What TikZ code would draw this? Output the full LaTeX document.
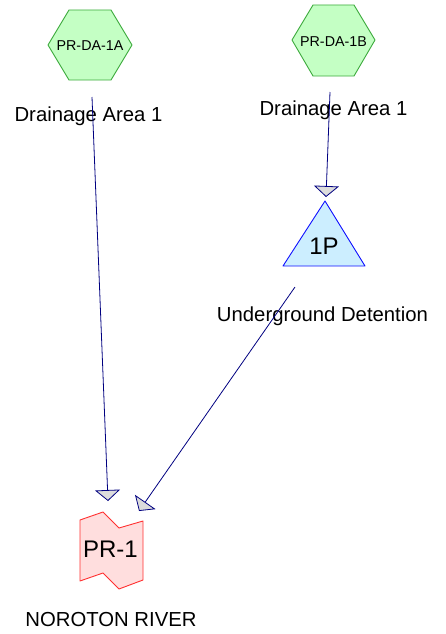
\documentclass[tikz,border=0pt]{standalone}
\usepackage{fontspec}
\setmainfont{Liberation Sans}
\usetikzlibrary{arrows.meta}
\definecolor{hexfill}{HTML}{C4FFC4}
\definecolor{hexline}{HTML}{3CAA3C}
\definecolor{pondfill}{HTML}{CCEEFF}
\definecolor{pondline}{HTML}{1010FF}
\definecolor{reachfill}{HTML}{FFDEDE}
\definecolor{reachline}{HTML}{FF3030}
\definecolor{linkcol}{HTML}{000080}
\definecolor{tipfill}{HTML}{DCDCDC}
\tikzset{
  hexshape/.style={fill=hexfill,draw=hexline,line width=0.9pt,line join=round},
  pondshape/.style={fill=pondfill,draw=pondline,line width=0.9pt,line join=round},
  reachshape/.style={fill=reachfill,draw=reachline,line width=0.9pt,line join=round},
  smalltxt/.style={font=\fontsize{14.3}{16}\selectfont,inner sep=0pt},
  bigtxt/.style={font=\fontsize{24}{27}\selectfont,inner sep=0pt},
  labeltxt/.style={font=\fontsize{20.3}{23}\selectfont,inner sep=0pt},
  link/.style={draw=linkcol,line width=0.8pt,-{Triangle[width=25pt,length=11pt,fill=tipfill]}}
}
\begin{document}
\begin{tikzpicture}[x=1pt,y=-1pt]
\useasboundingbox (0,0) rectangle (446,634);
% hexagon A
\draw[hexshape] (48,45) -- (69,10) -- (111,10) -- (132,45) -- (111,80) -- (69,80) -- cycle;
\node[smalltxt] (hexA) at (90,46) {PR-DA-1A};
\node[labeltxt] (labA) at (88.5,116) {Drainage Area 1};
% hexagon B
\draw[hexshape] (292,40) -- (313,5) -- (354,5) -- (375,40) -- (354,76) -- (313,76) -- cycle;
\node[smalltxt] (hexB) at (333.5,42) {PR-DA-1B};
\node[labeltxt] (labB) at (333.5,110) {Drainage Area 1};
% pond
\draw[pondshape] (325,201) -- (365,266) -- (283,266) -- cycle;
\node[bigtxt] (pond) at (324,246) {1P};
\node[labeltxt] (labP) at (322.5,316) {Underground Detention};
% reach
\draw[reachshape] (80,520) -- (103,512) -- (119,528) -- (143,521) -- (143,580) -- (119,589) -- (103,573) -- (80,581) -- cycle;
\node[bigtxt] (reach) at (110.5,549) {PR-1};
\node[labeltxt] (labR) at (111,620) {NOROTON RIVER};
% connector ends
\coordinate (aOut) at (92,97);
\coordinate (aIn) at (108,501);
\coordinate (bOut) at (330,92);
\coordinate (bIn) at (326,197);
\coordinate (pOut) at (295,287);
\coordinate (pIn) at (139,511);
\draw[link] (aOut) -- (aIn);
\draw[link] (bOut) -- (bIn);
\draw[link] (pOut) -- (pIn);
\end{tikzpicture}
\end{document}
